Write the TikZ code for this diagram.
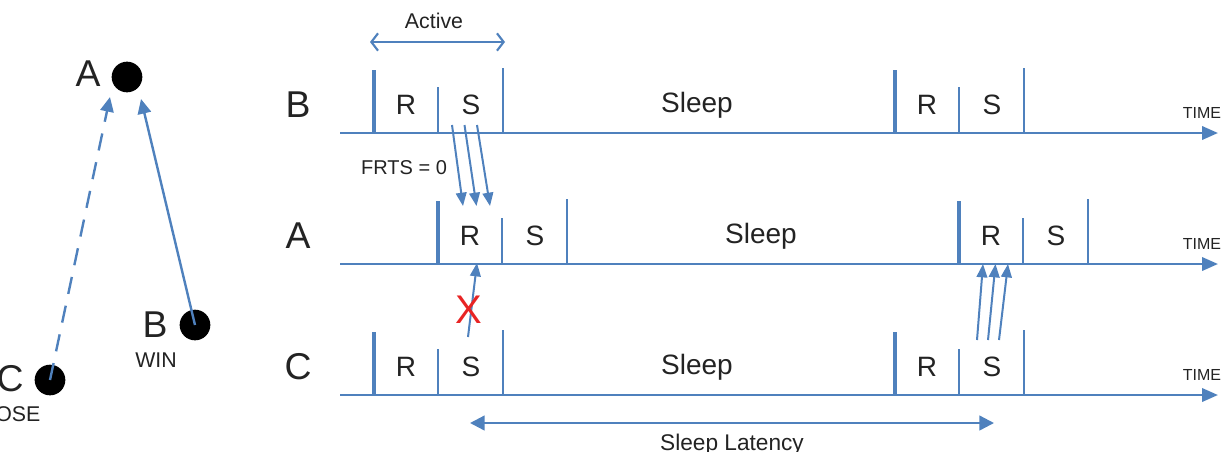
\documentclass[tikz,border=0pt]{standalone}
\usepackage{fontspec}
\setmainfont{Liberation Sans}
\usetikzlibrary{arrows.meta}
\definecolor{lineblue}{RGB}{79,129,189}
\definecolor{txtgray}{RGB}{35,35,35}
\definecolor{lostred}{RGB}{232,36,36}

\tikzset{
  dot/.style={circle,fill=black,inner sep=0pt,minimum size=23pt},
  big/.style={font=\fontsize{28}{30}\selectfont,text=txtgray},
  slot/.style={font=\fontsize{21}{24}\selectfont,text=txtgray},
  small/.style={font=\fontsize{12}{14}\selectfont,text=txtgray},
  note/.style={font=\fontsize{16}{18}\selectfont,text=txtgray},
  axis/.style={lineblue,line width=2pt,-{Triangle[length=12pt,width=10pt]}},
  bar/.style={lineblue,line width=2.8pt},
  thinbar/.style={lineblue,line width=1.5pt},
  midbar/.style={lineblue,line width=1.8pt},
  msg/.style={lineblue,line width=1.5pt,-{Triangle[length=10pt,width=8pt]}},
}

\begin{document}
\begin{tikzpicture}[x=0.75pt,y={(0pt,-0.75pt)}]
\useasboundingbox (0,0) rectangle (1227,451);

% the three stations
\node[dot] (A) at (127,77) {};
\node[dot] (B) at (195,325) {};
\node[dot] (C) at (50,380) {};
\node[big] (Alab) at (88,74) {A};
\node[big] (Blab) at (155,325) {B};
\node[big] (Clab) at (10,379) {C};
\node[note] (win) at (156,360) {WIN};
\node[note] (lose) at (12,414) {LOSE};
\coordinate (Ctip) at (110,97);
\coordinate (Btip) at (141,99);
\draw[lineblue,line width=1.8pt,dash pattern=on 13pt off 9pt,-{Triangle[length=11pt,width=10pt]}] (C.center) -- (Ctip);
\draw[lineblue,line width=1.8pt,-{Triangle[length=11pt,width=10pt]}] (B.center) -- (Btip);

% time lines
\foreach \row/\y/\d in {B/133/0,A/264/64,C/395/0}{
  \node[big] (lbl\row) at (298,\y-28) {\row};
  \coordinate (start\row) at (340,\y);
  \coordinate (end\row) at (1218,\y);
  \draw[axis] (start\row) -- (end\row);
  \node[small] (time\row) at (1202,\y-20) {TIME};
  \node[slot] (sleep\row) at (697+\d,\y-28) {Sleep};
  \foreach \c/\x in {1/374,2/895}{
    \draw[bar] (\x+\d,\y) -- ++(0,-63);
    \draw[thinbar] (\x+\d+64,\y) -- ++(0,-46);
    \draw[midbar] (\x+\d+129,\y) -- ++(0,-65);
    \node[slot] (R\row\c) at (\x+\d+32,\y-28) {R};
    \node[slot] (S\row\c) at (\x+\d+97,\y-28) {S};
  }
}

% active period
\coordinate (actL) at (370,42);
\coordinate (actR) at (505,42);
\draw[lineblue,line width=1.6pt,{Straight Barb[length=5pt,width=13pt]}-{Straight Barb[length=5pt,width=13pt]}] (actL) -- (actR);
\node[note] (active) at (434,21) {Active};

% B sends to A
\node[note,font=\fontsize{15}{17}\selectfont] (frts) at (404,168) {FRTS = 0};
\foreach \i in {0,1,2}{
  \coordinate (bs\i) at (452+12.5*\i,125);
  \coordinate (be\i) at (463+13.5*\i,206);
  \draw[msg] (bs\i) -- (be\i);
}

% C to A lost
\coordinate (cs) at (468,337);
\coordinate (ce) at (477,263);
\draw[msg] (cs) -- (ce);
\node[text=lostred,font=\fontsize{30}{32}\selectfont] (lost) at (469,310) {X};

% C sends later
\foreach \i in {0,1,2}{
  \coordinate (ls\i) at (977+11*\i,340);
  \coordinate (le\i) at (983+12.5*\i,264);
  \draw[msg] (ls\i) -- (le\i);
}

% latency
\coordinate (latL) at (470,423);
\coordinate (latR) at (994,423);
\draw[lineblue,line width=1.8pt,{Triangle[length=11pt,width=11pt]}-{Triangle[length=11pt,width=11pt]}] (latL) -- (latR);
\node[note,font=\fontsize{17}{19}\selectfont] (latency) at (732,445) {Sleep Latency};
\end{tikzpicture}
\end{document}
